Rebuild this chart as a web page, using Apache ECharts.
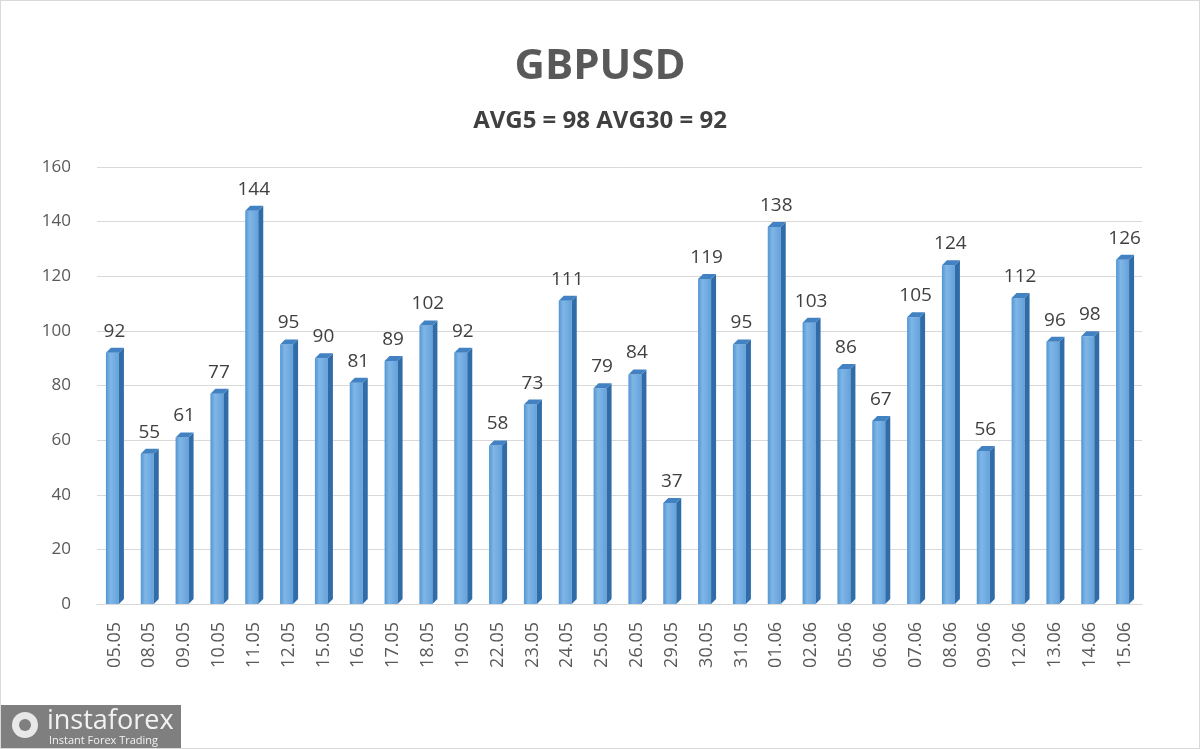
<!DOCTYPE html>
<html>
<head>
<meta charset="utf-8">
<script src="https://cdn.jsdelivr.net/npm/echarts@6/dist/echarts.min.js"></script>
<style>
  html, body { margin: 0; padding: 0; background: #fff; }
  #chart { width: 1200px; height: 749px; box-sizing: border-box; border: 1px solid #d9d9d9; }
</style>
</head>
<body>
<div id="chart"></div>
<script>
const dates = ['05.05', '08.05', '09.05', '10.05', '11.05', '12.05', '15.05', '16.05', '17.05', '18.05',
  '19.05', '22.05', '23.05', '24.05', '25.05', '26.05', '29.05', '30.05', '31.05', '01.06',
  '02.06', '05.06', '06.06', '07.06', '08.06', '09.06', '12.06', '13.06', '14.06', '15.06'];
const values = [92, 55, 61, 77, 144, 95, 90, 81, 89, 102, 92, 58, 73, 111, 79, 84, 37, 119, 95, 138,
  103, 86, 67, 105, 124, 56, 112, 96, 98, 126];
const titleText = 'GBPUSD';
const subtitleText = 'AVG5 = 98 AVG30 = 92';

const chart = echarts.init(document.getElementById('chart'));

// pseudo 3D column: front face, darker side, top cap
function renderBar(params, api) {
  const idx = api.value(0);
  const val = api.value(1);
  const top = api.coord([idx, val]);
  const base = api.coord([idx, 0]);
  const w = 13;
  const d = 5;
  const x0 = top[0] - w / 2 - 2;
  const x1 = x0 + w;
  return {
    type: 'group',
    children: [
      {
        type: 'rect',
        shape: { x: x0, y: top[1], width: w, height: base[1] - top[1] },
        style: {
          fill: new echarts.graphic.LinearGradient(0, 0, 1, 0, [
            { offset: 0, color: '#5296d4' },
            { offset: 0.35, color: '#80b6e6' },
            { offset: 1, color: '#64a2dc' }
          ])
        }
      },
      {
        type: 'polygon',
        shape: { points: [[x1, top[1]], [x1 + d, top[1] - d], [x1 + d, base[1] - d], [x1, base[1]]] },
        style: { fill: '#2f6ca8' }
      },
      {
        type: 'polygon',
        shape: { points: [[x0, top[1]], [x0 + d, top[1] - d], [x1 + d, top[1] - d], [x1, top[1]]] },
        style: { fill: '#4282c2' }
      },
      {
        type: 'text',
        style: {
          x: top[0],
          y: top[1] - 12,
          text: String(val),
          align: 'center',
          verticalAlign: 'bottom',
          fill: '#404040',
          font: '19px "Open Sans", sans-serif'
        }
      }
    ]
  };
}

chart.setOption({
  animation: false,
  title: [
    {
      text: titleText,
      left: 'center',
      top: 40,
      textStyle: { fontFamily: 'Open Sans', fontWeight: 'bold', fontSize: 42, color: '#595959' }
    },
    {
      text: subtitleText,
      left: 'center',
      top: 103,
      textStyle: { fontFamily: 'Open Sans', fontWeight: 'bold', fontSize: 24, color: '#404040' }
    }
  ],
  grid: { left: 96, right: 57, top: 166, bottom: 144 },
  xAxis: {
    type: 'category',
    data: dates,
    axisLine: { show: true, lineStyle: { color: '#d9d9d9' } },
    axisTick: { show: false },
    axisLabel: {
      rotate: 90,
      margin: 18,
      fontFamily: 'Open Sans',
      fontSize: 18,
      color: '#595959'
    }
  },
  yAxis: {
    type: 'value',
    min: 0,
    max: 160,
    interval: 20,
    axisLine: { show: false },
    axisTick: { show: false },
    axisLabel: { margin: 26, fontFamily: 'Open Sans', fontSize: 17, color: '#595959' },
    splitLine: { lineStyle: { color: '#d9d9d9', width: 1 } }
  },
  series: [
    {
      type: 'custom',
      renderItem: renderBar,
      data: values.map((v, i) => [i, v]),
      encode: { x: 0, y: 1 }
    }
  ],
  graphic: [
    {
      type: 'group',
      left: 0,
      top: 704,
      children: [
        { type: 'rect', shape: { x: 0, y: 0, width: 180, height: 45 }, style: { fill: '#7f7f7f' } },
        { type: 'circle', shape: { cx: 24, cy: 20, r: 13 }, style: { fill: '#e8e8e8' } },
        { type: 'circle', shape: { cx: 24, cy: 20, r: 6 }, style: { fill: '#7f7f7f' } },
        {
          type: 'text',
          style: { x: 46, y: 3, text: 'instaforex', fill: '#f2f2f2', font: '27px "Open Sans", sans-serif' }
        },
        {
          type: 'text',
          style: { x: 48, y: 30, text: 'Instant Forex Trading', fill: '#f2f2f2', font: '11px "Open Sans", sans-serif' }
        }
      ]
    }
  ]
});
</script>
</body>
</html>
